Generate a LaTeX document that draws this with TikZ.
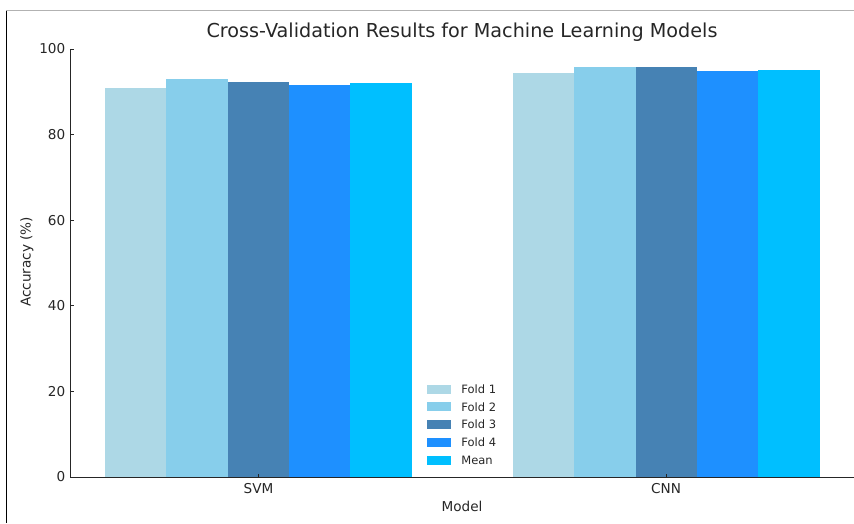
\documentclass[tikz,border=0pt]{standalone}
\usepackage{fontspec}
\setmainfont{DejaVu Sans}
\usepackage{xcolor}
\usetikzlibrary{positioning, calc}
\definecolor{cFoldA}{RGB}{173,216,230}
\definecolor{cFoldB}{RGB}{135,206,235}
\definecolor{cFoldC}{RGB}{70,130,180}
\definecolor{cFoldD}{RGB}{30,144,255}
\definecolor{cMean}{RGB}{0,191,255}
\definecolor{cText}{RGB}{38,38,38}
\tikzset{
	ticklbl/.style ={font=\fontsize{13.6}{16}\selectfont, text=cText, inner sep=0pt},
	axislbl/.style ={font=\fontsize{13.6}{16}\selectfont, text=cText, inner sep=0pt},
	titlelbl/.style={font=\fontsize{19.2}{22}\selectfont, text=cText, inner sep=0pt},
	keybox/.style  ={rectangle, minimum width=24pt, minimum height=9pt, inner sep=0pt, draw=none},
	keytext/.style ={font=\fontsize{11.5}{13}\selectfont, text=cText, inner sep=0pt, anchor=west},
	spine/.style   ={line width=1pt, black!85},
	tickmark/.style={line width=0.8pt, black!85},
}
\begin{document}
\begin{tikzpicture}[x=1pt, y=1pt]
	\useasboundingbox (0,0) rectangle (854,523);
	% outer frame
	\draw[gray!60, line width=1pt] (6,512) -- (854,512);
	\draw[black, line width=1pt] (6,512) -- (6,0);
	% bars: SVM and CNN
	\foreach \v/\c [count=\i from 0] in {90.9/cFoldA, 93.0/cFoldB, 92.3/cFoldC, 91.6/cFoldD, 92.05/cMean}
		\fill[\c] (105+\i*61.3,46) rectangle ++(61.3,\v*4.28);
	\foreach \v/\c [count=\i from 0] in {94.4/cFoldA, 95.8/cFoldB, 95.8/cFoldC, 94.9/cFoldD, 95.1/cMean}
		\fill[\c] (513+\i*61.3,46) rectangle ++(61.3,\v*4.28);
	% axes
	\coordinate (origin) at (70,46);
	\coordinate (ytop) at (70,474);
	\coordinate (xend) at (854,46);
	\draw[spine] (ytop) -- (origin) -- (xend);
	\foreach \t in {0,20,...,100} {
		\draw[tickmark] (70,46+\t*4.28) -- ++(3.5,0);
		\node[ticklbl, anchor=east] (ytick\t) at (65.5,46+\t*4.28) {\t};
	}
	\draw[tickmark] (258.5,46) -- ++(0,3.5);
	\draw[tickmark] (666,46) -- ++(0,3.5);
	\node[ticklbl] (svm) at (258.5,34) {SVM};
	\node[ticklbl] (cnn) at (666,34) {CNN};
	\node[axislbl] (xlabel) at (462,17) {Model};
	\node[axislbl, rotate=90] (ylabel) at (27,261) {Accuracy (\%)};
	\node[titlelbl] (title) at (462,491) {Cross-Validation Results for Machine Learning Models};
	% legend
	\foreach \c/\t [count=\i from 0] in {cFoldA/Fold 1, cFoldB/Fold 2, cFoldC/Fold 3, cFoldD/Fold 4, cMean/Mean} {
		\node[keybox, fill=\c] (key\i) at (439,134-\i*17.75) {};
		\node[keytext, right=10pt of key\i] (keylbl\i) {\t};
	}
\end{tikzpicture}
\end{document}
